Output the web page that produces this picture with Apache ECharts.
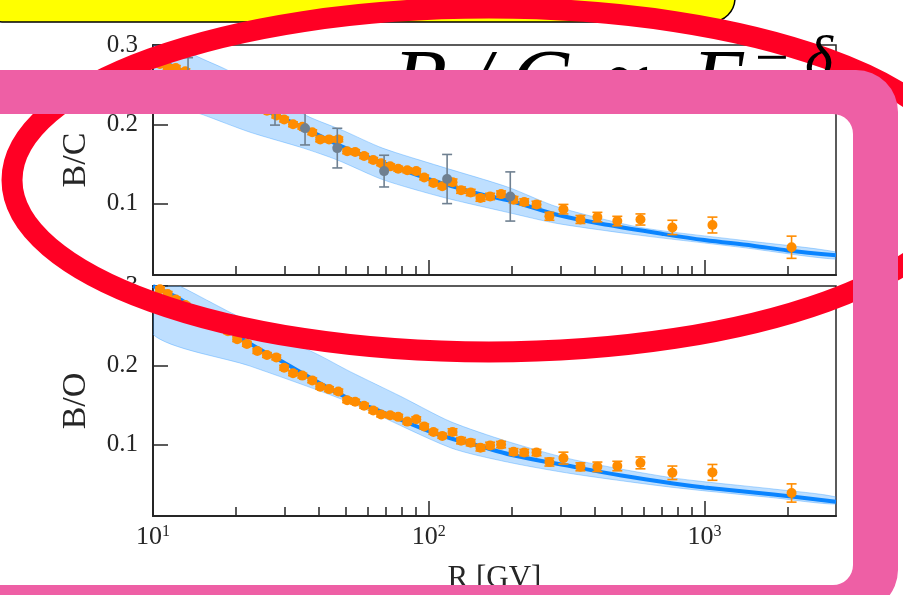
<!DOCTYPE html>
<html>
<head>
<meta charset="utf-8">
<script src="https://cdn.jsdelivr.net/npm/echarts@6/dist/echarts.min.js"></script>
<style>
  html, body { margin: 0; padding: 0; background: #ffffff; }
  #chart { width: 903px; height: 595px; }
</style>
</head>
<body>
<div id="chart"></div>
<script>
// Rigidity bins [GV] shared by both ratio measurements
const R_BINS = [10.6, 11.3, 12.1, 13.1, 14.0, 15.1, 16.1, 17.4, 18.7, 20.2, 21.9, 23.9, 25.9, 28.0, 29.9,
  32.2, 34.8, 37.8, 40.4, 43.5, 47.0, 50.6, 54.1, 58.3, 62.9, 67.2, 72.5, 77.5, 83.6, 90.1, 96.3,
  104, 112, 122, 131, 142, 154, 167, 183, 203, 222, 246, 274, 308, 355, 409, 483, 586, 765, 1069, 2070];

// B/C measurement
const BC_VALUES = [0.276, 0.272, 0.271, 0.267, 0.262, 0.256, 0.251, 0.245, 0.240, 0.234, 0.228, 0.222, 0.217, 0.211, 0.206,
  0.200, 0.197, 0.190, 0.181, 0.181, 0.181, 0.166, 0.165, 0.160, 0.155, 0.151, 0.147, 0.144, 0.142, 0.141, 0.133,
  0.126, 0.122, 0.127, 0.117, 0.114, 0.107, 0.109, 0.112, 0.105, 0.102, 0.099, 0.084, 0.093, 0.080, 0.083, 0.078, 0.080, 0.070, 0.073, 0.045];
const BC_ERRORS = [0.003, 0.003, 0.003, 0.003, 0.003, 0.003, 0.003, 0.003, 0.003, 0.003, 0.003, 0.003, 0.003, 0.003, 0.003,
  0.003, 0.003, 0.003, 0.003, 0.003, 0.003, 0.003, 0.003, 0.003, 0.003, 0.003, 0.003, 0.003, 0.003, 0.003, 0.003,
  0.003, 0.003, 0.004, 0.004, 0.004, 0.004, 0.004, 0.004, 0.004, 0.004, 0.004, 0.005, 0.006, 0.005, 0.006, 0.006, 0.007, 0.009, 0.010, 0.014];

// Earlier B/C measurement
const BC_REF_R = [13.4, 27.7, 35.6, 46.6, 68.9, 116.6, 197.6];
const BC_REF_VALUES = [0.262, 0.219, 0.195, 0.170, 0.141, 0.131, 0.109];
const BC_REF_ERRORS = [0.022, 0.020, 0.021, 0.025, 0.020, 0.031, 0.031];

// B/O measurement
const BO_VALUES = [0.296, 0.290, 0.283, 0.276, 0.270, 0.263, 0.256, 0.250, 0.243, 0.233, 0.227, 0.218, 0.213, 0.210, 0.197,
  0.190, 0.187, 0.181, 0.173, 0.170, 0.167, 0.156, 0.154, 0.149, 0.143, 0.138, 0.137, 0.135, 0.129, 0.132, 0.123,
  0.116, 0.111, 0.116, 0.105, 0.1025, 0.096, 0.099, 0.100, 0.091, 0.090, 0.090, 0.078, 0.083, 0.072, 0.072, 0.073, 0.077, 0.0645, 0.065, 0.039];
const BO_ERRORS = [0.003, 0.003, 0.003, 0.003, 0.003, 0.003, 0.003, 0.003, 0.003, 0.003, 0.003, 0.003, 0.003, 0.003, 0.003,
  0.003, 0.003, 0.003, 0.003, 0.003, 0.003, 0.003, 0.003, 0.003, 0.003, 0.003, 0.003, 0.003, 0.003, 0.003, 0.003,
  0.003, 0.003, 0.004, 0.004, 0.004, 0.004, 0.004, 0.004, 0.004, 0.004, 0.004, 0.005, 0.0075, 0.005, 0.006, 0.006, 0.0075, 0.0085, 0.010, 0.0115];

// Model curves and their uncertainty bands
const BC_MODEL_R = [10, 12, 15, 20, 25, 30, 40, 50, 70, 100, 150, 200, 300, 450, 700, 1000, 1500, 2000, 3000];
const BC_MODEL = [0.285, 0.272, 0.256, 0.234, 0.219, 0.207, 0.186, 0.170, 0.150, 0.131, 0.113, 0.103, 0.085, 0.073, 0.062, 0.054, 0.047, 0.041, 0.035];
const BC_BAND_UP_R = [10, 12.5, 14.2, 18.7, 25, 36, 49, 68, 110, 193, 292, 586, 1352, 3000];
const BC_BAND_UP = [0.325, 0.300, 0.287, 0.268, 0.243, 0.211, 0.192, 0.170, 0.147, 0.121, 0.096, 0.070, 0.054, 0.039];
const BC_BAND_LO_R = [10, 15.2, 22.5, 35.1, 46.6, 68.4, 112.6, 193, 292, 586, 1352, 3000];
const BC_BAND_LO = [0.235, 0.212, 0.190, 0.170, 0.155, 0.130, 0.108, 0.089, 0.075, 0.060, 0.045, 0.030];

const BO_MODEL_R = [10, 12, 15, 20, 25, 30, 40, 50, 70, 100, 120, 150, 200, 335, 500, 771, 1000, 1781, 3000];
const BO_MODEL = [0.300, 0.287, 0.266, 0.238, 0.218, 0.203, 0.178, 0.160, 0.139, 0.117, 0.108, 0.099, 0.087, 0.072, 0.061, 0.051, 0.046, 0.037, 0.028];
const BO_BAND_UP_R = [10, 12.5, 19.5, 39.4, 51.9, 79, 120, 193, 335, 771, 1781, 3000];
const BO_BAND_UP = [0.315, 0.300, 0.265, 0.214, 0.192, 0.161, 0.129, 0.104, 0.081, 0.058, 0.044, 0.034];
const BO_BAND_LO_R = [10, 22.5, 51.9, 120, 193, 335, 771, 1781, 3000];
const BO_BAND_LO = [0.239, 0.199, 0.153, 0.096, 0.078, 0.063, 0.046, 0.033, 0.025];

// Axis ticks
const X_MAJOR_TICKS = [10, 100, 1000];
const X_MINOR_TICKS = [20, 30, 40, 50, 60, 70, 80, 90, 200, 300, 400, 500, 600, 700, 800, 900, 2000];
const Y_TICKS = [0.1, 0.2, 0.3];

const SERIF = '"Liberation Serif", "DejaVu Serif", serif';
const INK = '#262626';
const ORANGE = '#ff8c00';
const GREY = '#6f8091';
const BLUE = '#0a84ff';

const pairs = (xs, ys) => xs.map((x, i) => [x, ys[i]]);
const triples = (xs, ys, es) => xs.map((x, i) => [x, ys[i], es[i]]);

function bandSeries(gi, upR, up, loR, lo) {
  const upper = pairs(upR, up);
  const lower = pairs(loR, lo).reverse();
  return {
    type: 'custom', xAxisIndex: gi * 2, yAxisIndex: gi, clip: true, silent: true, z: 1,
    data: [[100, 0.1]],
    renderItem: (params, api) => ({
      type: 'polygon',
      shape: { points: upper.concat(lower).map(p => api.coord(p)), smooth: 0.25 },
      style: { fill: 'rgba(40,150,255,0.30)', stroke: 'rgba(40,150,255,0.35)', lineWidth: 1 }
    })
  };
}

function errorSeries(gi, data, color, z) {
  return {
    type: 'custom', xAxisIndex: gi * 2, yAxisIndex: gi, silent: true, z: z,
    data: data, encode: { x: 0, y: 1 },
    renderItem: (params, api) => {
      const x = api.value(0), y = api.value(1), e = api.value(2);
      const hi = api.coord([x, y + e]);
      const lo = api.coord([x, y - e]);
      const hw = 5;
      const st = { stroke: color, lineWidth: 1.6 };
      return {
        type: 'group', children: [
          { type: 'line', shape: { x1: hi[0], y1: hi[1], x2: lo[0], y2: lo[1] }, style: st },
          { type: 'line', shape: { x1: hi[0] - hw, y1: hi[1], x2: hi[0] + hw, y2: hi[1] }, style: st },
          { type: 'line', shape: { x1: lo[0] - hw, y1: lo[1], x2: lo[0] + hw, y2: lo[1] }, style: st }
        ]
      };
    }
  };
}

function modelSeries(gi, xs, ys) {
  return {
    type: 'line', xAxisIndex: gi * 2, yAxisIndex: gi, data: pairs(xs, ys), smooth: 0.35,
    showSymbol: false, silent: true, z: 2,
    lineStyle: { color: BLUE, width: 4 }
  };
}

function pointSeries(gi, xs, ys, color, z) {
  return {
    type: 'scatter', xAxisIndex: gi * 2, yAxisIndex: gi, data: pairs(xs, ys),
    symbol: 'circle', symbolSize: 10, silent: true, z: z,
    itemStyle: { color: color, opacity: 1 }
  };
}

function xAxes(gi, withLabels) {
  const base = { type: 'log', logBase: 10, min: 10, max: 3000, gridIndex: gi, position: 'bottom', splitLine: { show: false } };
  const major = Object.assign({}, base, {
    axisLine: { show: true, lineStyle: { color: INK, width: 2 } },
    axisTick: { show: true, inside: true, length: 15, customValues: X_MAJOR_TICKS, lineStyle: { color: INK, width: 1.5 } },
    axisLabel: withLabels ? {
      show: true, customValues: X_MAJOR_TICKS, margin: 8,
      formatter: v => '{b|10}{s|' + Math.round(Math.log10(v)) + '}',
      rich: {
        b: { fontSize: 26, fontFamily: SERIF, color: INK, lineHeight: 26 },
        s: { fontSize: 16, fontFamily: SERIF, color: INK, verticalAlign: 'top', lineHeight: 26 }
      }
    } : { show: false }
  });
  if (withLabels) {
    Object.assign(major, {
      name: 'R [GV]', nameLocation: 'middle', nameGap: 47,
      nameTextStyle: { fontSize: 31, fontFamily: SERIF, color: INK }
    });
  }
  const minor = Object.assign({}, base, {
    axisLine: { show: false },
    axisTick: { show: true, inside: true, length: 9, customValues: X_MINOR_TICKS, lineStyle: { color: INK, width: 1.5 } },
    axisLabel: { show: false }
  });
  return [major, minor];
}

function yAxis(gi, name) {
  return {
    type: 'value', gridIndex: gi, min: 0.01, max: 0.3,
    splitLine: { show: false },
    axisLine: { show: true, lineStyle: { color: INK, width: 2 } },
    axisTick: { show: true, inside: true, length: 15, customValues: Y_TICKS, lineStyle: { color: INK, width: 1.5 } },
    axisLabel: { show: true, customValues: Y_TICKS, margin: 15, fontSize: 25, fontFamily: SERIF, color: INK,
      formatter: v => v.toFixed(1) },
    name: name, nameLocation: 'middle', nameRotate: 90, nameGap: 60,
    nameTextStyle: { fontSize: 34, fontFamily: SERIF, color: INK }
  };
}

// Annotation layer drawn on top of the figure
const PINK_FRAME =
  'M -60 70 L 856 70 A 42 42 0 0 1 898 112 L 898 570 A 42 42 0 0 1 856 612 L -60 612 Z ' +
  'M -16 114 L -16 585 L 833 585 A 20 20 0 0 0 853 565 L 853 134 A 20 20 0 0 0 833 114 Z';

function formulaText(str, x, y, size, italic) {
  return {
    type: 'text', x: x, y: y,
    style: {
      text: str, fill: '#000',
      font: (italic ? 'italic ' : '') + size + 'px ' + SERIF,
      align: 'left', verticalAlign: 'top'
    }
  };
}

const annotationSeries = {
  type: 'custom', coordinateSystem: 'none', silent: true, z: 100, clip: false,
  data: [0],
  renderItem: () => ({
    type: 'group',
    children: [
      { type: 'rect', shape: { x: -20, y: -40, width: 755, height: 62, r: 24 },
        style: { fill: '#ffff00', stroke: '#000', lineWidth: 1.5 } },
      { type: 'ellipse', shape: { cx: 489, cy: 180, rx: 477, ry: 172 },
        style: { fill: 'none', stroke: '#ff0024', lineWidth: 21 } },
      formulaText('B', 393, 43, 88, true),
      formulaText('/', 466, 43, 88, true),
      formulaText('C', 510, 43, 88, true),
      formulaText('\u221D', 597, 43, 88, false),
      formulaText('E', 692, 43, 88, true),
      formulaText('\u2212', 755, 31, 60, false),
      formulaText('\u03B4', 805, 31, 60, true),
      { type: 'path', shape: { pathData: PINK_FRAME }, style: { fill: '#ee5fa5' } }
    ]
  })
};

const chart = echarts.init(document.getElementById('chart'), null, { renderer: 'canvas' });
chart.setOption({
  animation: false,
  backgroundColor: '#ffffff',
  textStyle: { fontFamily: SERIF },
  grid: [
    { left: 153, top: 45, width: 683, height: 230, show: true, borderColor: INK, borderWidth: 1.5, backgroundColor: 'transparent' },
    { left: 153, top: 286, width: 683, height: 231, show: true, borderColor: INK, borderWidth: 1.5, backgroundColor: 'transparent' }
  ],
  xAxis: xAxes(0, false).concat(xAxes(1, true)),
  yAxis: [yAxis(0, 'B/C'), yAxis(1, 'B/O')],
  series: [
    bandSeries(0, BC_BAND_UP_R, BC_BAND_UP, BC_BAND_LO_R, BC_BAND_LO),
    modelSeries(0, BC_MODEL_R, BC_MODEL),
    errorSeries(0, triples(R_BINS, BC_VALUES, BC_ERRORS), ORANGE, 3),
    pointSeries(0, R_BINS, BC_VALUES, ORANGE, 4),
    errorSeries(0, triples(BC_REF_R, BC_REF_VALUES, BC_REF_ERRORS), GREY, 5),
    pointSeries(0, BC_REF_R, BC_REF_VALUES, GREY, 6),

    bandSeries(1, BO_BAND_UP_R, BO_BAND_UP, BO_BAND_LO_R, BO_BAND_LO),
    modelSeries(1, BO_MODEL_R, BO_MODEL),
    errorSeries(1, triples(R_BINS, BO_VALUES, BO_ERRORS), ORANGE, 3),
    pointSeries(1, R_BINS, BO_VALUES, ORANGE, 4),

    annotationSeries
  ]
});
</script>
</body>
</html>
